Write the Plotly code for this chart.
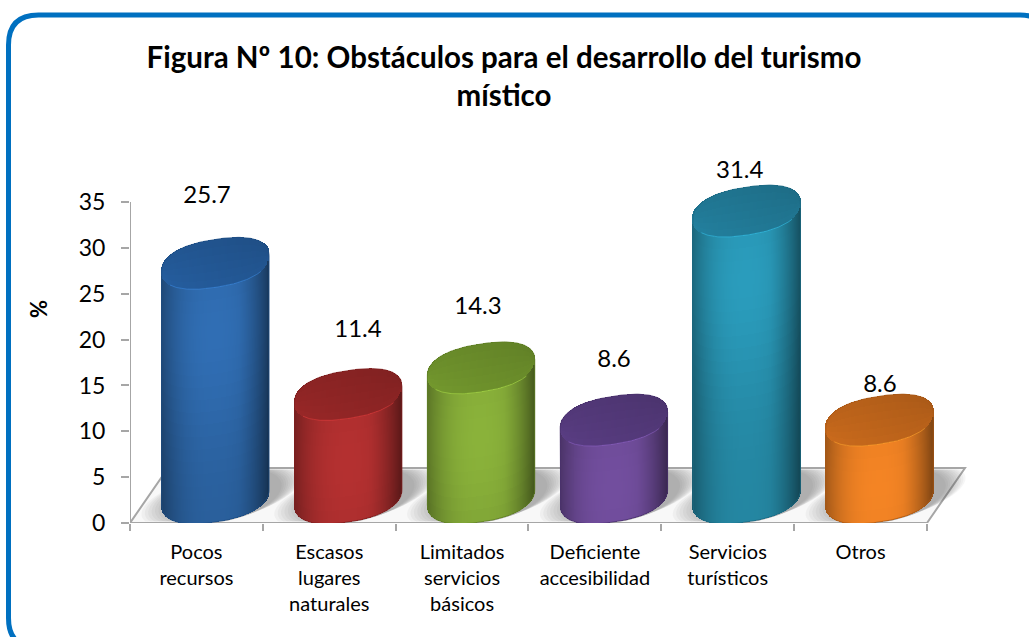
import numpy as np
import plotly.graph_objects as go

categories = ["Pocos<br>recursos", "Escasos<br>lugares<br>naturales", "Limitados<br>servicios<br>básicos",
              "Deficiente<br>accesibilidad", "Servicios<br>turísticos", "Otros"]
values = [25.7, 11.4, 14.3, 8.6, 31.4, 8.6]
labels = ["25.7", "11.4", "14.3", "8.6", "31.4", "8.6"]
y_ticks = [0, 5, 10, 15, 20, 25, 30, 35]
body_rgb = [(48, 110, 180), (180, 48, 48), (138, 178, 58), (114, 78, 158), (42, 156, 188), (244, 132, 36)]
top_rgb = [(34, 86, 146), (140, 36, 36), (106, 140, 42), (82, 56, 120), (32, 118, 146), (186, 98, 26)]
label_dx = [0.08, 0.216, 0.12, 0.144, 0.09, 0.146]
label_dy = [9.86, 9.55, 9.15, 9.08, 6.9, 6.35]

W, H = 1029, 637
L, R, T, B = 130, 22, 147, 114
PX_X, PX_Y = 132.83, 9.17
X_MAX = (W - L - R) / PX_X
Y_MAX = (H - B - T) / PX_Y
A = 53.7 / PX_X
HALF = 24.0 / PX_Y
SHEAR = 8.0 / PX_Y
BASE_C = 26.0 / PX_Y
TOP_OFF = 24.0 / PX_Y
CX_OFF = 0.143
DEPTH_X, DEPTH_Y = 38 / PX_X, 55 / PX_Y
GRAY = "#A6A6A6"
ROUND = 2.35


def shade(rgb, f):
    return "rgb(%d,%d,%d)" % tuple(min(255, max(0, round(c * f))) for c in rgb)


def shade_a(rgb, f, a):
    return "rgba(%d,%d,%d,%.2f)" % (*[min(255, max(0, round(c * f))) for c in rgb], a)


def half_height(u):
    return HALF * np.clip(1 - np.abs(u) ** ROUND, 0, 1) ** (1 / ROUND)


def ellipse_pts(cx, cy, a, b, sh, n=72):
    t = np.linspace(0, 2 * np.pi, n)
    return cx + a * np.cos(t), cy + sh * np.cos(t) + b * np.sin(t)


def to_path(xs, ys):
    return "M" + " L".join(f"{x:.4f},{y:.4f}" for x, y in zip(xs, ys)) + " Z"


shapes = []
def px(x):
    return (x - L) / (W - L - R)
def py(y):
    return 1 - (y - T) / (H - T - B)

fx0, fx1, fy0, fy1, rad = 8.5, 1050, 15, 648, 30
frame = (f"M{px(fx0)},{py(fy0+rad)} Q{px(fx0)},{py(fy0)} {px(fx0+rad)},{py(fy0)} "
         f"L{px(fx1-rad)},{py(fy0)} Q{px(fx1)},{py(fy0)} {px(fx1)},{py(fy0+rad)} "
         f"L{px(fx1)},{py(fy1-rad)} Q{px(fx1)},{py(fy1)} {px(fx1-rad)},{py(fy1)} "
         f"L{px(fx0+rad)},{py(fy1)} Q{px(fx0)},{py(fy1)} {px(fx0)},{py(fy1-rad)} Z")
shapes.append(dict(type="path", xref="paper", yref="paper", path=frame, layer="below",
                   fillcolor="white", line=dict(color="#0070C0", width=5)))

n_cat = len(values)
fl_x = [0, n_cat, n_cat + DEPTH_X, DEPTH_X]
fl_y = [0, 0, DEPTH_Y, DEPTH_Y]
shapes.append(dict(type="path", xref="x", yref="y", path=to_path(fl_x, fl_y), layer="below",
                   fillcolor="#F8F8F8", line=dict(color=GRAY, width=2)))
for i in range(n_cat):
    cx = i + 0.5 + CX_OFF
    for k in range(10):
        xs, ys = ellipse_pts(cx + (6 + k * 0.6) / PX_X, BASE_C + 0.1, (80 - k * 2.8) / PX_X,
                             (26 - k * 0.15) / PX_Y, (18 - k * 0.8) / PX_Y)
        ys = np.clip(ys, 0.15, DEPTH_Y - 0.15)
        shapes.append(dict(type="path", xref="x", yref="y", path=to_path(xs, ys), layer="below",
                           fillcolor="rgba(70,70,70,0.05)", line=dict(width=0)))
shapes.append(dict(type="line", xref="x", yref="y", x0=0, x1=0, y0=0, y1=max(y_ticks), layer="below",
                   line=dict(color=GRAY, width=2)))

fig = go.Figure()
N_COL = 108
for i, v in enumerate(values):
    cx = i + 0.5 + CX_OFF
    us = (np.arange(N_COL) + 0.5) / N_COL * 2 - 1
    bx, bbase, by, bcol = [], [], [], []
    rows = max(5, int(v * PX_Y / 12))
    for u in us:
        x = cx + u * A
        yc = SHEAR * u
        h = half_height(u)
        y0 = BASE_C + yc - h * 1.04
        y1 = v + TOP_OFF + yc - h
        fu = 1.0 - 0.34 * abs(u) ** 2.6 - (0.14 * max(0, u - 0.45) / 0.55)
        edges = np.linspace(y0, y1, rows + 1)
        for r in range(rows):
            d_top = (rows - r - 0.5) / rows * (y1 - y0) * PX_Y
            fv = 0.86 + 0.14 * np.exp(-((d_top - 45) / 110) ** 2)
            bx.append(x)
            bbase.append(edges[r])
            by.append(edges[r + 1] - edges[r])
            bcol.append(shade(body_rgb[i], fu * fv))
        top_edges = np.linspace(y1, y1 + 2 * h, 7)
        for r in range(6):
            tv = (r + 0.5) / 6
            bx.append(x)
            bbase.append(top_edges[r])
            by.append(top_edges[r + 1] - top_edges[r])
            bcol.append(shade(top_rgb[i], (1.04 - 0.08 * tv) * (1 - 0.05 * u)))
    fig.add_trace(go.Bar(x=bx, y=by, base=bbase, width=2 * A / N_COL * 1.25,
                         marker=dict(color=bcol, line=dict(width=0)), hoverinfo="skip", showlegend=False))
    us2 = np.cos(np.linspace(np.pi * 0.82, np.pi * 0.18, 80))
    rim_y = v + TOP_OFF + SHEAR * us2 - half_height(us2)
    fig.add_trace(go.Scatter(x=cx + us2 * A, y=rim_y, mode="lines", showlegend=False, hoverinfo="skip",
                             line=dict(color=shade_a(body_rgb[i], 1.25, 0.55), width=1)))
    ua = np.cos(np.linspace(0, np.pi, 70))
    ub = ua[::-1]
    ox = list(cx + A * ua) + list(cx + A * ub) + [cx + A]
    oy = list(v + TOP_OFF + SHEAR * ua + half_height(ua)) + list(BASE_C + SHEAR * ub - 1.04 * half_height(ub)) + [
        v + TOP_OFF + SHEAR]
    fig.add_trace(go.Scatter(x=ox, y=oy, mode="lines", showlegend=False, hoverinfo="skip",
                             line=dict(color=shade_a(top_rgb[i], 0.9, 0.75), width=1)))

fig.add_trace(go.Scatter(x=[i + 0.5 + d for i, d in enumerate(label_dx)],
                         y=[v + d for v, d in zip(values, label_dy)],
                         text=labels, mode="text", textposition="middle center", hoverinfo="skip",
                         textfont=dict(family="Lato", size=24, color="black"), showlegend=False))

fig.update_layout(
    width=W, height=H, margin=dict(l=L, r=R, t=T, b=B), autosize=False,
    paper_bgcolor="white", plot_bgcolor="rgba(0,0,0,0)", barmode="overlay", bargap=0,
    shapes=shapes, showlegend=False,
    title=dict(text="<b>Figura Nº 10: Obstáculos para el desarrollo del turismo<br>místico</b>",
               x=504 / W, xanchor="center", y=1 - 68 / H, yanchor="top",
               font=dict(family="Lato", size=29.5, color="black")),
    annotations=[dict(text="<b>%</b>", xref="paper", yref="paper", x=px(38), y=py(309), showarrow=False,
                      xanchor="center", yanchor="middle", textangle=-90,
                      font=dict(family="Lato", size=22, color="black"))],
    xaxis=dict(range=[0, X_MAX], tickmode="array", tickvals=[i + 0.5 for i in range(n_cat)], ticktext=categories,
               ticks="outside", ticklen=11, tickcolor="rgba(0,0,0,0)", showgrid=False, zeroline=False, showline=False,
               tickangle=0, tickfont=dict(family="Lato", size=20, color="black"),
               minor=dict(tickmode="array", tickvals=list(range(n_cat + 1)), ticks="outside", ticklen=7,
                          tickcolor=GRAY, tickwidth=2, showgrid=False)),
    yaxis=dict(range=[0, Y_MAX], tickmode="array", tickvals=y_ticks, ticks="outside", ticklen=19, tickwidth=2,
               tickcolor="rgba(0,0,0,0)", showgrid=False, zeroline=False, showline=False,
               tickfont=dict(family="Lato", size=23, color="black"),
               minor=dict(tickmode="array", tickvals=y_ticks, ticks="outside", ticklen=8,
                          tickcolor=GRAY, tickwidth=2, showgrid=False)),
)

fig.write_html("out.html", post_script="document.body.style.margin='0';", config={"displayModeBar": False})
